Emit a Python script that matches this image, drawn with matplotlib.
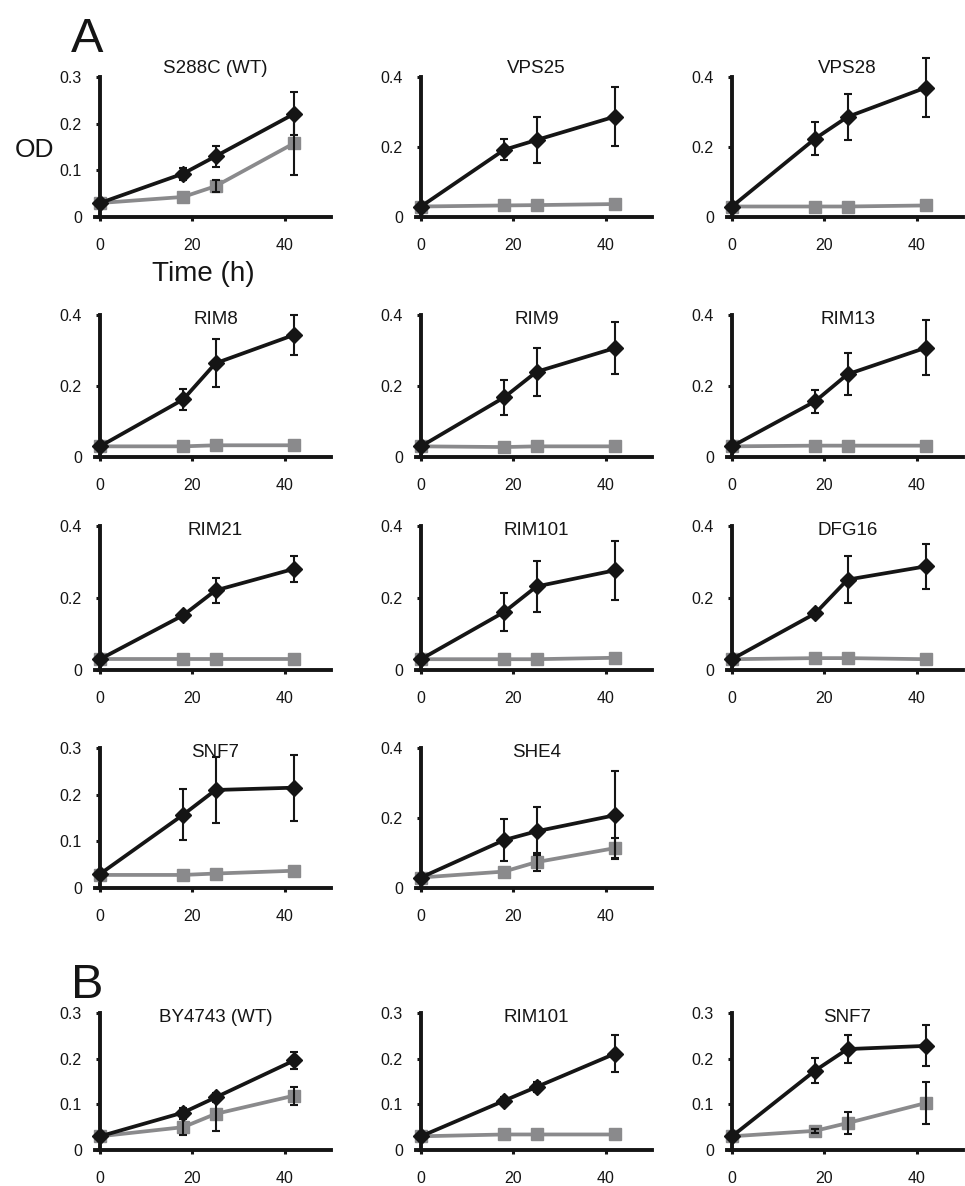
import numpy as np
import matplotlib
matplotlib.use("Agg")
import matplotlib.pyplot as plt

# sampling times (h)
times = [0, 18, 25, 42]

titles = ["S288C (WT)", "VPS25", "VPS28",
          "RIM8", "RIM9", "RIM13",
          "RIM21", "RIM101", "DFG16",
          "SNF7", "SHE4",
          "BY4743 (WT)", "RIM101", "SNF7"]
ymax = [0.3, 0.4, 0.4,
        0.4, 0.4, 0.4,
        0.4, 0.4, 0.4,
        0.3, 0.4,
        0.3, 0.3, 0.3]

# dark series (diamonds) and its error bars
od_dark = [[0.03, 0.093, 0.130, 0.221],
           [0.03, 0.192, 0.220, 0.287],
           [0.03, 0.224, 0.286, 0.370],
           [0.03, 0.162, 0.264, 0.344],
           [0.03, 0.168, 0.240, 0.307],
           [0.03, 0.157, 0.233, 0.308],
           [0.03, 0.152, 0.221, 0.281],
           [0.03, 0.161, 0.232, 0.277],
           [0.03, 0.157, 0.251, 0.288],
           [0.03, 0.157, 0.210, 0.215],
           [0.03, 0.137, 0.162, 0.208],
           [0.03, 0.082, 0.115, 0.196],
           [0.03, 0.108, 0.138, 0.211],
           [0.03, 0.174, 0.221, 0.228]]
err_dark = [[0, 0.013, 0.022, 0.046],
            [0, 0.030, 0.067, 0.085],
            [0, 0.048, 0.065, 0.085],
            [0, 0.030, 0.068, 0.057],
            [0, 0.049, 0.067, 0.073],
            [0, 0.033, 0.059, 0.077],
            [0, 0.007, 0.035, 0.037],
            [0, 0.053, 0.072, 0.082],
            [0, 0.010, 0.065, 0.063],
            [0, 0.055, 0.070, 0.071],
            [0, 0.060, 0.069, 0.125],
            [0, 0.010, 0.010, 0.018],
            [0, 0.008, 0.012, 0.040],
            [0, 0.028, 0.030, 0.045]]

# light series (squares) and its error bars
od_light = [[0.03, 0.043, 0.066, 0.158],
            [0.03, 0.033, 0.034, 0.037],
            [0.03, 0.030, 0.030, 0.033],
            [0.03, 0.030, 0.033, 0.033],
            [0.03, 0.028, 0.030, 0.030],
            [0.03, 0.032, 0.032, 0.032],
            [0.03, 0.030, 0.030, 0.030],
            [0.03, 0.030, 0.030, 0.034],
            [0.03, 0.033, 0.033, 0.030],
            [0.028, 0.028, 0.031, 0.037],
            [0.03, 0.047, 0.074, 0.114],
            [0.03, 0.050, 0.079, 0.119],
            [0.03, 0.034, 0.034, 0.034],
            [0.03, 0.042, 0.059, 0.103]]
err_light = [[0, 0, 0.013, 0.068],
             [0, 0, 0, 0],
             [0, 0, 0, 0],
             [0, 0, 0, 0],
             [0, 0, 0, 0],
             [0, 0, 0, 0],
             [0, 0, 0, 0],
             [0, 0, 0, 0],
             [0, 0, 0, 0],
             [0, 0, 0, 0],
             [0, 0, 0.025, 0.028],
             [0, 0.017, 0.038, 0.020],
             [0, 0, 0, 0],
             [0, 0.005, 0.025, 0.045]]

plt.rcParams['font.family'] = ["Liberation Sans", "DejaVu Sans"]

W, H = 965, 1186
fig = plt.figure(figsize=(W / 100, H / 100), dpi=100)

# panel grid in pixels: column left edges, row (top, bottom)
col_x = [100, 421, 732]
rows = [(77, 217), (315, 457), (526, 670), (748, 888), (1013, 1150)]
ax_w = 231
slots = [(0, 0), (0, 1), (0, 2),
         (1, 0), (1, 1), (1, 2),
         (2, 0), (2, 1), (2, 2),
         (3, 0), (3, 1),
         (4, 0), (4, 1), (4, 2)]

DARK = "#151515"
LIGHT = "#8a8a8c"

for k, (r, c) in enumerate(slots):
    top, bot = rows[r]
    ax = fig.add_axes([col_x[c] / W, 1 - bot / H, ax_w / W, (bot - top) / H])
    ax.plot(times, od_light[k], color=LIGHT, lw=2.7, marker='s', ms=9,
            mec=LIGHT, mfc=LIGHT, clip_on=False, zorder=3)
    ax.plot(times, od_dark[k], color=DARK, lw=2.7, marker='D', ms=8,
            mec=DARK, mfc=DARK, clip_on=False, zorder=4)
    for y, e in ((od_light[k], err_light[k]), (od_dark[k], err_dark[k])):
        t = [times[i] for i in range(4) if e[i] > 0]
        yy = [y[i] for i in range(4) if e[i] > 0]
        ee = [e[i] for i in range(4) if e[i] > 0]
        if t:
            ax.errorbar(t, yy, yerr=ee, fmt='none', ecolor=DARK, elinewidth=1.5,
                        capsize=3, capthick=1.5, clip_on=False, zorder=5)

    ax.set_xlim(0, 50)
    ax.set_ylim(0, ymax[k])
    ax.set_xticks([0, 20, 40])
    if ymax[k] == 0.3:
        yt = [0, 0.1, 0.2, 0.3]
        yl = ["0", "0.1", "0.2", "0.3"]
    else:
        yt = [0, 0.2, 0.4]
        yl = ["0", "0.2", "0.4"]
    ax.set_yticks(yt)
    ax.set_yticklabels(yl)
    for s in ("top", "right"):
        ax.spines[s].set_visible(False)
    for s in ("left", "bottom"):
        ax.spines[s].set_linewidth(2.8)
        ax.spines[s].set_color(DARK)
    ax.spines['bottom'].set_bounds(-1, 50)
    ax.tick_params(axis='y', direction='out', length=3, width=2.2, pad=10,
                   labelsize=11.5, colors=DARK)
    ax.tick_params(axis='x', direction='out', length=3, width=2.2, pad=12,
                   labelsize=11.5, colors=DARK)
    ty = 1.06 if r == 0 else 0.97
    ax.text(0.5, ty, titles[k], transform=ax.transAxes, ha='center', va='center',
            fontsize=13.5, color=DARK)

fig.text(34 / W, 1 - 150 / H, "OD", fontsize=19, ha='center', va='center', color=DARK)
fig.text(203 / W, 1 - 274 / H, "Time (h)", fontsize=20, ha='center', va='center', color=DARK)
fig.text(87 / W, 1 - 52 / H, "A", fontsize=35, ha='center', va='baseline', color=DARK)
fig.text(87 / W, 1 - 998 / H, "B", fontsize=35, ha='center', va='baseline', color=DARK)

fig.savefig("out.png", dpi=100)
